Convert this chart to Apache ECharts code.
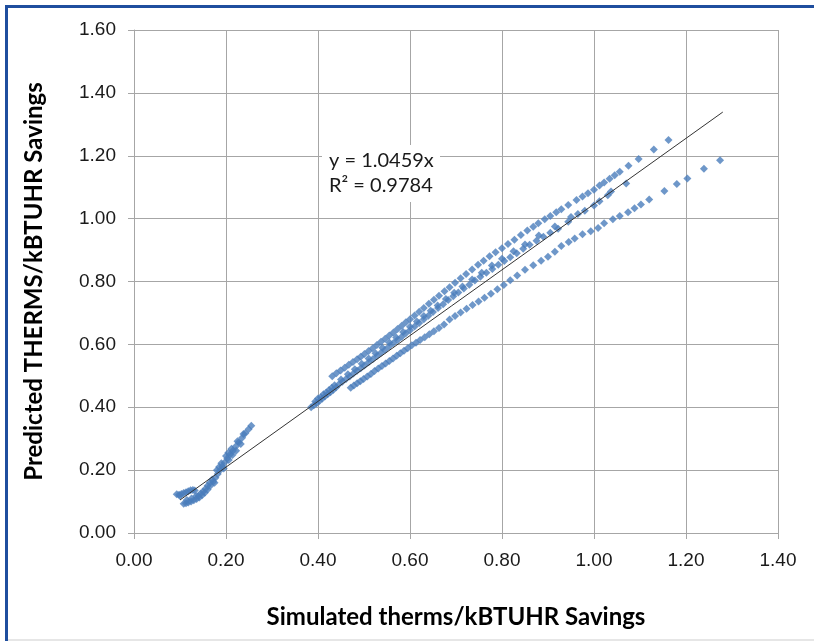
<!DOCTYPE html>
<html>
<head>
<meta charset="utf-8">
<script src="https://cdn.jsdelivr.net/npm/echarts@6/dist/echarts.min.js"></script>
<style>
  html, body { margin: 0; padding: 0; background: #fff; }
  #chart { width: 814px; height: 641px; }
</style>
</head>
<body>
<div id="chart"></div>
<script>
// values: [simulated, predicted]
const lowCluster = [
  [0.093, 0.123], [0.098, 0.122], [0.103, 0.124], [0.108, 0.127], [0.113, 0.130],
  [0.118, 0.133], [0.123, 0.136], [0.128, 0.137], [0.132, 0.135], [0.100, 0.118],
  [0.108, 0.093], [0.113, 0.095], [0.118, 0.097], [0.124, 0.100], [0.130, 0.104],
  [0.136, 0.108], [0.142, 0.113], [0.148, 0.120], [0.154, 0.128], [0.160, 0.138],
  [0.166, 0.150], [0.172, 0.163], [0.177, 0.176], [0.182, 0.188], [0.187, 0.200],
  [0.192, 0.212], [0.197, 0.224], [0.203, 0.237], [0.209, 0.250], [0.215, 0.262],
  [0.221, 0.275], [0.228, 0.289], [0.235, 0.303], [0.242, 0.317], [0.249, 0.330],
  [0.255, 0.341], [0.140, 0.118], [0.150, 0.131], [0.160, 0.150], [0.170, 0.170],
  [0.180, 0.200], [0.190, 0.222], [0.200, 0.245], [0.195, 0.205], [0.175, 0.160],
  [0.115, 0.105], [0.125, 0.110], [0.135, 0.118], [0.145, 0.126], [0.155, 0.140],
  [0.165, 0.160], [0.185, 0.210], [0.205, 0.255], [0.212, 0.268], [0.225, 0.292],
  [0.238, 0.315], [0.206, 0.232], [0.214, 0.248], [0.222, 0.262], [0.232, 0.283]
];
const baseCluster = [
  [0.385, 0.400], [0.391, 0.406], [0.397, 0.413], [0.403, 0.420], [0.409, 0.427],
  [0.415, 0.434], [0.421, 0.441], [0.427, 0.448], [0.433, 0.455], [0.439, 0.463],
  [0.400, 0.428], [0.412, 0.441], [0.424, 0.455], [0.436, 0.470], [0.394, 0.418],
  [0.406, 0.432], [0.418, 0.447], [0.430, 0.462]
];
const upperBand = [
  [0.431, 0.499], [0.440, 0.508], [0.449, 0.517], [0.458, 0.526], [0.467, 0.535],
  [0.476, 0.544], [0.485, 0.553], [0.493, 0.561], [0.501, 0.569], [0.510, 0.579],
  [0.519, 0.588], [0.528, 0.598], [0.537, 0.608], [0.546, 0.618], [0.555, 0.628],
  [0.564, 0.638], [0.573, 0.649], [0.582, 0.659], [0.591, 0.670], [0.600, 0.680],
  [0.610, 0.692], [0.620, 0.704], [0.630, 0.716], [0.641, 0.729], [0.652, 0.742],
  [0.663, 0.755], [0.675, 0.769], [0.686, 0.782], [0.698, 0.796], [0.710, 0.810],
  [0.722, 0.824], [0.735, 0.838], [0.748, 0.853], [0.760, 0.866], [0.773, 0.880],
  [0.786, 0.893], [0.800, 0.906], [0.813, 0.919], [0.827, 0.933], [0.841, 0.948],
  [0.855, 0.962], [0.868, 0.974], [0.879, 0.985], [0.893, 0.998], [0.905, 1.008],
  [0.918, 1.020], [0.929, 1.030], [0.944, 1.043], [0.962, 1.059], [0.975, 1.070],
  [0.987, 1.081], [1.000, 1.092], [1.012, 1.105], [1.022, 1.115], [1.034, 1.127],
  [1.045, 1.138], [1.056, 1.149], [1.075, 1.168], [1.097, 1.190], [1.130, 1.220],
  [1.162, 1.250]
];
const middleBand = [
  [0.445, 0.472], [0.453, 0.481], [0.461, 0.490], [0.469, 0.498], [0.477, 0.507],
  [0.485, 0.516], [0.493, 0.524], [0.501, 0.533], [0.510, 0.543], [0.519, 0.553],
  [0.528, 0.563], [0.537, 0.573], [0.546, 0.583], [0.555, 0.594], [0.564, 0.604],
  [0.573, 0.614], [0.582, 0.624], [0.591, 0.635], [0.600, 0.645], [0.610, 0.657],
  [0.620, 0.668], [0.630, 0.680], [0.640, 0.691], [0.650, 0.703], [0.661, 0.716],
  [0.672, 0.728], [0.683, 0.741], [0.694, 0.753], [0.705, 0.765], [0.717, 0.778],
  [0.729, 0.790], [0.741, 0.803], [0.753, 0.815], [0.766, 0.828], [0.779, 0.840],
  [0.792, 0.853], [0.805, 0.865], [0.818, 0.877], [0.832, 0.890], [0.846, 0.904],
  [0.860, 0.917], [0.875, 0.930], [0.890, 0.942], [0.905, 0.955], [0.922, 0.968],
  [0.944, 0.990], [0.965, 1.015], [0.980, 1.025], [1.000, 1.042], [1.012, 1.055],
  [1.030, 1.074], [1.037, 1.086], [1.070, 1.112]
];
// upper edge of the thick middle band
const middleBandUpper = [
  [0.450, 0.488], [0.465, 0.505], [0.480, 0.521], [0.495, 0.538], [0.510, 0.555],
  [0.525, 0.572], [0.540, 0.589], [0.555, 0.606], [0.570, 0.622], [0.585, 0.639],
  [0.600, 0.656], [0.615, 0.673], [0.630, 0.690], [0.645, 0.707], [0.660, 0.724],
  [0.678, 0.744], [0.696, 0.764], [0.714, 0.784], [0.735, 0.806], [0.756, 0.828],
  [0.778, 0.851], [0.800, 0.872], [0.825, 0.896], [0.850, 0.918], [0.880, 0.946],
  [0.915, 0.975], [0.950, 1.005]
];
const lowerBand = [
  [0.471, 0.462], [0.478, 0.469], [0.485, 0.476], [0.492, 0.483], [0.499, 0.490],
  [0.507, 0.498], [0.515, 0.506], [0.523, 0.515], [0.531, 0.523], [0.539, 0.531],
  [0.547, 0.539], [0.555, 0.547], [0.563, 0.555], [0.571, 0.564], [0.579, 0.572],
  [0.587, 0.580], [0.595, 0.588], [0.604, 0.597], [0.613, 0.605], [0.622, 0.614],
  [0.632, 0.623], [0.642, 0.632], [0.652, 0.642], [0.663, 0.652], [0.674, 0.663],
  [0.686, 0.679], [0.698, 0.690], [0.710, 0.701], [0.723, 0.713], [0.736, 0.725],
  [0.749, 0.736], [0.762, 0.748], [0.776, 0.761], [0.790, 0.775], [0.804, 0.789],
  [0.818, 0.804], [0.833, 0.819], [0.850, 0.837], [0.868, 0.852], [0.885, 0.866],
  [0.900, 0.879], [0.915, 0.895], [0.929, 0.913], [0.945, 0.926], [0.958, 0.937],
  [0.975, 0.950], [0.993, 0.960], [1.009, 0.970], [1.022, 0.985], [1.041, 0.998],
  [1.056, 1.008], [1.074, 1.020], [1.088, 1.033], [1.102, 1.045], [1.120, 1.061],
  [1.153, 1.088], [1.180, 1.110], [1.203, 1.128], [1.239, 1.159], [1.274, 1.186]
];
// trendline y = 1.0459x, drawn across the data range
const trendLine = [[0.1, 0.105], [1.28, 1.339]];
const xTicks = { min: 0, max: 1.4, step: 0.2 };
const yTicks = { min: 0, max: 1.6, step: 0.2 };

const blue = '#4a7dbb';
const gridGray = '#a6a6a6';
const labelFont = '"Liberation Sans Narrow", "Liberation Sans", sans-serif';
const titleFont = 'Lato, "Open Sans", sans-serif';

const chart = echarts.init(document.getElementById('chart'));

function scatter(data) {
  return {
    type: 'scatter',
    data,
    symbol: 'diamond',
    symbolSize: 8,
    itemStyle: { color: blue },
    silent: true,
    z: 2
  };
}

function axis(t, name, gap, rotate, labelMargin) {
  return {
    type: 'value',
    min: t.min,
    max: t.max,
    interval: t.step,
    name,
    nameLocation: 'middle',
    nameGap: gap,
    nameRotate: rotate,
    nameTextStyle: { fontFamily: titleFont, fontWeight: 'bold', fontSize: 24, color: '#000' },
    axisLine: { show: true, lineStyle: { color: gridGray } },
    axisTick: { show: true, length: 6, lineStyle: { color: gridGray } },
    axisLabel: {
      formatter: v => v.toFixed(2),
      fontFamily: labelFont,
      fontSize: 19,
      color: '#1a1a1a',
      margin: labelMargin
    },
    splitLine: { show: true, lineStyle: { color: gridGray, width: 1 } }
  };
}

chart.setOption({
  animation: false,
  backgroundColor: '#fff',
  grid: { left: 134, top: 30, right: 36, bottom: 108 },
  xAxis: axis(xTicks, 'Simulated therms/kBTUHR Savings', 72, 0, 18),
  yAxis: axis(yTicks, 'Predicted THERMS/kBTUHR Savings', 88, 90, 18),
  series: [
    scatter(lowCluster),
    scatter(baseCluster),
    scatter(upperBand),
    scatter(middleBand),
    scatter(middleBandUpper),
    scatter(lowerBand),
    {
      type: 'line',
      data: trendLine,
      symbol: 'none',
      lineStyle: { color: '#333', width: 1 },
      silent: true,
      z: 3
    }
  ],
  graphic: [
    { type: 'rect', left: 5, top: 5, shape: { width: 3, height: 636 }, style: { fill: '#1f4e9e' } },
    { type: 'rect', left: 5, top: 5, shape: { width: 809, height: 3 }, style: { fill: '#1f4e9e' } },
    { type: 'rect', left: 8, top: 639, shape: { width: 806, height: 2 }, style: { fill: '#e6e6e6' } },
    { type: 'rect', left: 322, top: 145, shape: { width: 118, height: 57 }, style: { fill: '#fff' }, z: 10 },
    {
      type: 'text', left: 329, top: 151, z: 11,
      style: { text: 'y = 1.0459x', font: '20px ' + titleFont, fill: '#1a1a1a' }
    },
    {
      type: 'text', left: 329, top: 176, z: 11,
      style: { text: 'R² = 0.9784', font: '20px ' + titleFont, fill: '#1a1a1a' }
    }
  ]
});
</script>
</body>
</html>
